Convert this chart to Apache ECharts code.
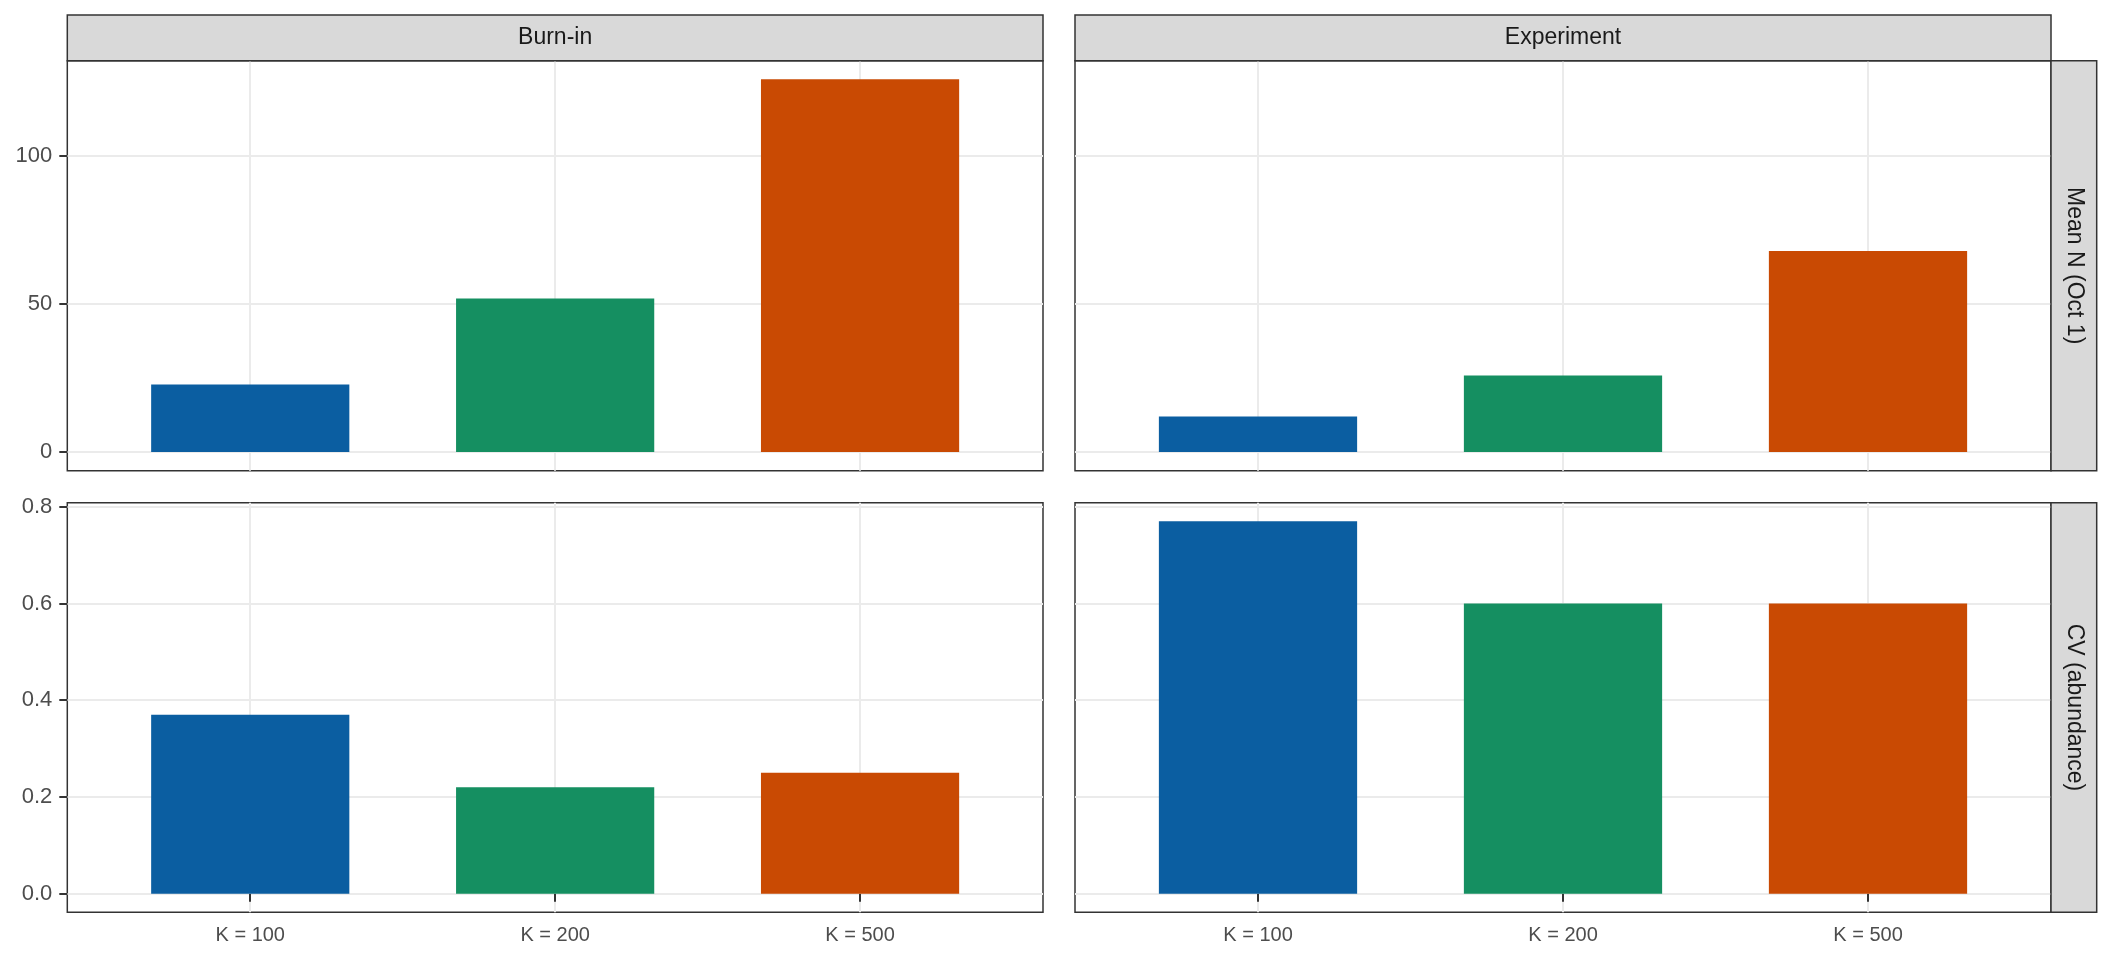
<!DOCTYPE html>
<html><head><meta charset="utf-8">
<script src="https://cdn.jsdelivr.net/npm/echarts@6/dist/echarts.min.js"></script>
<style>html,body{margin:0;padding:0;background:#fff}#c{width:2112px;height:960px}</style>
</head><body><div id="c"></div>
<script>
// ---- data ----
const categories = ['K = 100', 'K = 200', 'K = 500'];
const facetCols = ['Burn-in', 'Experiment'];
const facetRows = ['Mean N (Oct 1)', 'CV (abundance)'];
const burnInMeanN = [22.8, 51.8, 125.8];
const experimentMeanN = [12.0, 25.8, 67.9];
const burnInCV = [0.37, 0.22, 0.25];
const experimentCV = [0.77, 0.60, 0.60];
const meanNTicks = [0, 50, 100];
const cvTicks = [0, 0.2, 0.4, 0.6, 0.8];
const barColors = ['#0B5EA1', '#158F61', '#C94A03'];

// ---- layout ----
const FONT = "'Liberation Sans', Arial, Helvetica, sans-serif";
const colLeft = [67.3, 1075];
const colWidth = [975.7, 976];
const rowTop = [60.7, 502.7];
const rowHeight = [410, 409.6];
const stripTop = 15;
const stripRightW = 45.7;

const panelData = [[burnInMeanN, experimentMeanN], [burnInCV, experimentCV]];
const rowTicks = [meanNTicks, cvTicks];
const rowFmt = [v => String(v), v => v.toFixed(1)];

const grids = [], xAxes = [], yAxes = [], series = [];
const xMin = 0.4, xMax = categories.length + 0.6;
let idx = 0;
for (let r = 0; r < 2; r++) {
  const rowMax = Math.max(...panelData[r][0], ...panelData[r][1]);
  const pad = rowMax * 0.05;
  for (let c = 0; c < 2; c++) {
    grids.push({
      left: colLeft[c], top: rowTop[r], width: colWidth[c], height: rowHeight[r],
      show: true, backgroundColor: '#ffffff', borderColor: '#333333', borderWidth: 1.5,
      containLabel: false
    });
    xAxes.push({
      type: 'value', gridIndex: idx, min: xMin, max: xMax,
      axisLine: { show: false },
      axisTick: { show: r === 1, customValues: [1, 2, 3], length: 8, lineStyle: { color: '#333333', width: 2 } },
      axisLabel: { show: r === 1, customValues: [1, 2, 3], formatter: v => categories[Math.round(v) - 1],
        fontSize: 20, color: '#4D4D4D', margin: 13, fontFamily: FONT },
      splitLine: { show: true, lineStyle: { color: '#EBEBEB', width: 2 } }
    });
    yAxes.push({
      type: 'value', gridIndex: idx, min: -pad, max: rowMax + pad,
      axisLine: { show: false },
      axisTick: { show: c === 0, customValues: rowTicks[r], length: 8, lineStyle: { color: '#333333', width: 2 } },
      axisLabel: { show: c === 0, customValues: rowTicks[r], formatter: rowFmt[r],
        fontSize: 22, color: '#4D4D4D', margin: 15, fontFamily: FONT },
      splitLine: { show: true, lineStyle: { color: '#EBEBEB', width: 2 } }
    });
    const vals = panelData[r][c];
    series.push({
      type: 'bar', xAxisIndex: idx, yAxisIndex: idx,
      barWidth: colWidth[c] / (xMax - xMin) * 0.65,
      data: categories.map((name, k) => ({ value: [k + 1, vals[k]], name, itemStyle: { color: barColors[k] } })),
      silent: true
    });
    idx++;
  }
}

const graphic = [];
for (let c = 0; c < 2; c++) {
  graphic.push({ type: 'rect', shape: { x: colLeft[c], y: stripTop, width: colWidth[c], height: rowTop[0] - stripTop },
    style: { fill: '#D9D9D9', stroke: '#333333', lineWidth: 1.5 }, z: 10 });
  graphic.push({ type: 'text', x: colLeft[c] + colWidth[c] / 2, y: (stripTop + rowTop[0]) / 2,
    style: { text: facetCols[c], fontSize: 23, fontFamily: FONT, fill: '#1A1A1A', align: 'center', verticalAlign: 'middle',
      textAlign: 'center', textVerticalAlign: 'middle' }, z: 11 });
}
const rx = colLeft[1] + colWidth[1];
for (let r = 0; r < 2; r++) {
  graphic.push({ type: 'rect', shape: { x: rx, y: rowTop[r], width: stripRightW, height: rowHeight[r] },
    style: { fill: '#D9D9D9', stroke: '#333333', lineWidth: 1.5 }, z: 10 });
  graphic.push({ type: 'text', x: rx + stripRightW / 2, y: rowTop[r] + rowHeight[r] / 2, rotation: -Math.PI / 2,
    style: { text: facetRows[r], fontSize: 23, fontFamily: FONT, fill: '#1A1A1A', align: 'center', verticalAlign: 'middle',
      textAlign: 'center', textVerticalAlign: 'middle' }, z: 11 });
}

const chart = echarts.init(document.getElementById('c'), null, { renderer: 'canvas' });
chart.setOption({
  animation: false,
  backgroundColor: '#ffffff',
  grid: grids, xAxis: xAxes, yAxis: yAxes, series, graphic
});
</script></body></html>
